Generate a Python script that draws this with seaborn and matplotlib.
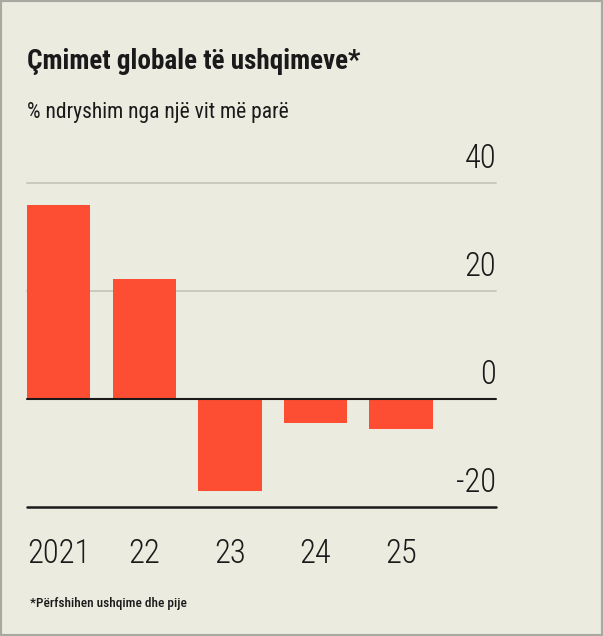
import numpy as np
import pandas as pd
import matplotlib

matplotlib.use('Agg')

import matplotlib.pyplot as plt
import seaborn as sns
from matplotlib.patches import Rectangle

sns.set_style("white")
plt.rcParams['font.family'] = ['Roboto Condensed', 'DejaVu Sans']

years = ["2021", "22", "23", "24", "25"]
change = [36.0, 22.2, -17.0, -4.4, -5.6]
yticks = [40, 20, 0, -20]

bg = "#ecebe0"
red = "#fd4d33"
ink = "#1a1a1a"

df = pd.DataFrame({"year": years, "change": change})

fig = plt.figure(figsize=(6.03, 6.36), dpi=100, facecolor=bg)
ax = fig.add_axes([27 / 603, 1 - 507 / 636, (496 - 27) / 603, (507 - 183) / 636])
ax.set_facecolor(bg)

sns.barplot(data=df, x="year", y="change", color=red, width=0.74,
            saturation=1, linewidth=0, edgecolor="none", ax=ax, zorder=3)

ax.set_xlim(-0.37, 5.11)
ax.set_ylim(-20, 40)

# gridlines and baselines
for v in yticks:
    if v == 0:
        ax.axhline(v, color=ink, lw=1.5, zorder=4, clip_on=False)
    elif v == -20:
        ax.axhline(v, color=ink, lw=1.8, zorder=4, clip_on=False)
    else:
        ax.axhline(v, color="#c9c9c0", lw=1.4, zorder=1, clip_on=False)

# y labels sit above the lines, right aligned
ax.set_yticks([])
for v in yticks:
    ax.text(1.0, v + 1.4, str(v), transform=ax.get_yaxis_transform(),
            ha="right", va="bottom", fontsize=23.5, fontweight=300, color=ink)

for s in ax.spines.values():
    s.set_visible(False)
ax.set_xlabel("")
ax.set_ylabel("")
ax.tick_params(axis="x", length=0, pad=22, labelsize=23.5, labelcolor=ink)
for lab in ax.get_xticklabels():
    lab.set_fontweight(300)

fig.text(27 / 603, 1 - 69 / 636, "Çmimet globale të ushqimeve*", fontsize=19.5,
         fontweight="bold", color=ink, ha="left", va="baseline")
fig.text(27 / 603, 1 - 118 / 636, "% ndryshim nga një vit më parë", fontsize=15.5,
         color=ink, ha="left", va="baseline")
fig.text(30 / 603, 1 - 607 / 636, "*Përfshihen ushqime dhe pije", fontsize=9.5,
         fontweight=500, color=ink, ha="left", va="baseline")

fig.patches.append(Rectangle((0, 0), 1, 1, transform=fig.transFigure,
                             fill=False, edgecolor="#a9a9a2", lw=3, zorder=10))

plt.savefig("out.png", dpi=100, facecolor=bg)
